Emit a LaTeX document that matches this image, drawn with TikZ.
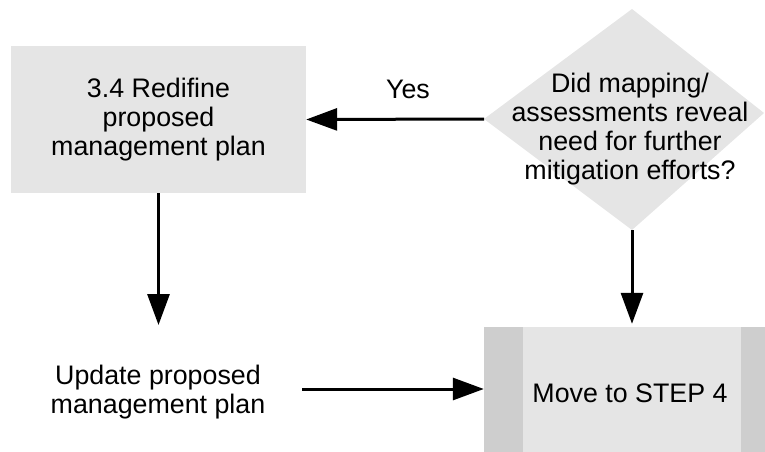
\documentclass[tikz,border=0pt]{standalone}
\usepackage{fontspec}
\setmainfont{Liberation Sans}
\usetikzlibrary{arrows.meta}

\definecolor{panel}{RGB}{229,229,229}
\definecolor{panelbar}{RGB}{206,206,206}

\tikzset{
  label text/.style={font=\fontsize{26.8}{29}\selectfont, align=center, inner sep=0pt},
  panelbox/.style={label text, fill=panel, inner sep=0pt},
  flow/.style={line width=3pt, -{Triangle[length=31pt,width=22pt]}},
}

\begin{document}
\begin{tikzpicture}[x=1pt, y=-1pt]
  \clip (0,0) rectangle (765,452);

  % process box
  \node[panelbox, minimum width=295pt, minimum height=147pt] (redef) at (158.5,119.5)
    {3.4 Redifine\\proposed\\management plan};

  % decision diamond
  \coordinate (ask-w) at (484,119);
  \coordinate (ask-n) at (632,9);
  \coordinate (ask-e) at (764,113);
  \coordinate (ask-s) at (632,230);
  \fill[panel] (ask-w) -- (ask-n) -- (ask-e) -- (ask-s) -- cycle;
  \node[label text] (ask) at (630,129)
    {Did mapping/\\assessments reveal\\need for further\\mitigation efforts?};

  % terminal box with side bars
  \node[panelbox, minimum width=296pt, minimum height=133pt] (step) at (632,393.5) {};
  \fill[panelbar] (step.north west) rectangle ([xshift=39pt]step.south west);
  \fill[panelbar] (step.north east) rectangle ([xshift=-39pt]step.south east);
  \node[label text] (steptext) at (630,393) {Move to STEP 4};

  % plain text step
  \node[label text] (upd) at (158,392) {Update proposed\\management plan};
  \coordinate (upd-in) at (158,325);
  \coordinate (upd-out) at (302,389);

  % connectors
  \draw[flow] (ask-w) -- (redef.east);
  \node[label text] (yes) at (408,89) {Yes};
  \draw[flow] (redef.south) -- (redef.south |- upd-in);
  \draw[flow, shorten >=3pt] (ask-s) -- (ask-s |- step.north);
  \draw[flow] (upd-out) -- (upd-out -| step.west);
\end{tikzpicture}
\end{document}
